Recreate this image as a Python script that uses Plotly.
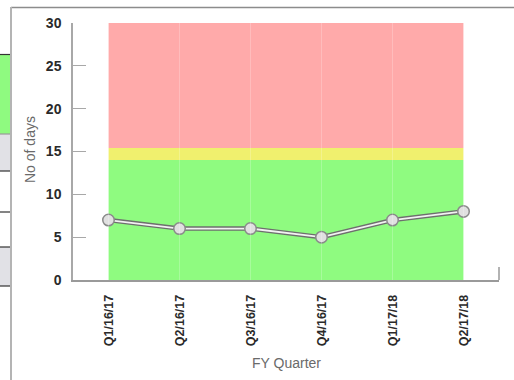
import plotly.graph_objects as go

# Quarterly turnaround (days) with RAG threshold bands
quarters = ["Q1/16/17", "Q2/16/17", "Q3/16/17", "Q4/16/17", "Q1/17/18", "Q2/17/18"]
days = [7, 6, 6, 5, 7, 8]

green_upper = [14] * len(quarters)
amber_upper = [15.4] * len(quarters)
red_upper = [30] * len(quarters)

W, H = 514, 380
L, R, T, B = 73, 15, 23, 100
PW, PH = W - L - R, H - T - B


def px_x(p):
    return (p - L) / PW


def px_y(q):
    return (H - B - q) / PH


fig = go.Figure()

# Threshold bands
fig.add_trace(go.Scatter(x=quarters, y=green_upper, mode="lines", line=dict(width=0),
                         fill="tozeroy", fillcolor="#8ffb80", hoverinfo="skip", showlegend=False))
fig.add_trace(go.Scatter(x=quarters, y=amber_upper, mode="lines", line=dict(width=0),
                         fill="tonexty", fillcolor="#f0f06e", hoverinfo="skip", showlegend=False))
fig.add_trace(go.Scatter(x=quarters, y=red_upper, mode="lines", line=dict(width=0),
                         fill="tonexty", fillcolor="#ffaaaa", hoverinfo="skip", showlegend=False))

# Double-stroked series line
fig.add_trace(go.Scatter(x=quarters, y=days, mode="lines", line=dict(color="#6e6e6e", width=4.5),
                         hoverinfo="skip", showlegend=False))
fig.add_trace(go.Scatter(x=quarters, y=days, mode="lines+markers",
                         line=dict(color="#f2f2f2", width=1.8),
                         marker=dict(size=11.5, color="#e0e0e0", line=dict(color="#8a8a8a", width=1.5)),
                         showlegend=False, name="No of days"))

shapes = []
# faint vertical grid at each quarter
for q in quarters:
    shapes.append(dict(type="line", xref="x", yref="y", x0=q, x1=q, y0=0, y1=30,
                       line=dict(color="rgba(255,255,255,0.22)", width=1), layer="above"))

# end tick on the right of the x axis
shapes.append(dict(type="line", xref="paper", yref="paper", x0=1, x1=1, y0=0, y1=px_y(267),
                   line=dict(color="#9a9a9a", width=1.5)))

# surrounding frame: top rule and left divider
shapes.append(dict(type="line", xref="paper", yref="paper", x0=px_x(11), x1=px_x(W), y0=px_y(7.5), y1=px_y(7.5),
                   line=dict(color="#8c8c8c", width=1.5)))
shapes.append(dict(type="line", xref="paper", yref="paper", x0=px_x(11), x1=px_x(11), y0=px_y(7), y1=px_y(H),
                   line=dict(color="#b4b4b4", width=2)))

# neighbouring table cells
cells = [(54, 134, "#8ffa80"), (134, 171, "#e1e1e6"), (171, 212, "#ffffff"),
         (212, 247, "#ffffff"), (247, 286, "#e1e1e6")]
for top, bot, col in cells:
    shapes.append(dict(type="rect", xref="paper", yref="paper", x0=px_x(-2), x1=px_x(10),
                       y0=px_y(bot), y1=px_y(top), fillcolor=col, line=dict(width=0)))
for yl, col in [(54.5, "#333333"), (134, "#9a9a9a"), (171, "#333333"), (212, "#333333"),
                (247, "#333333"), (286, "#333333")]:
    shapes.append(dict(type="line", xref="paper", yref="paper", x0=px_x(-2), x1=px_x(10),
                       y0=px_y(yl), y1=px_y(yl), line=dict(color=col, width=1.2)))

annotations = [
    dict(text="No of days", xref="paper", yref="paper", x=px_x(30), y=px_y(150), showarrow=False,
         xanchor="center", yanchor="middle", textangle=-90,
         font=dict(family="Liberation Sans, Arial", size=14, color="#6a6a6a")),
    dict(text="FY Quarter", xref="paper", yref="paper", x=px_x(286), y=px_y(363), showarrow=False,
         xanchor="center", yanchor="middle",
         font=dict(family="Liberation Sans, Arial", size=14, color="#6a6a6a")),
]

fig.update_layout(
    width=W, height=H,
    margin=dict(l=L, r=R, t=T, b=B),
    paper_bgcolor="white", plot_bgcolor="white",
    shapes=shapes, annotations=annotations,
    font=dict(family="Liberation Sans, Arial"),
    xaxis=dict(
        type="category", range=[-0.5, 5.5], showgrid=False, zeroline=False,
        showline=True, linecolor="#9a9a9a", linewidth=1.5, ticks="",
        ticklabelstandoff=8,
        tickangle=-90, tickfont=dict(family="Liberation Sans, Arial", size=12.5, color="#2a2a2a", weight="bold"),
    ),
    yaxis=dict(
        range=[0, 30], dtick=5, showgrid=False, zeroline=False,
        showline=True, linecolor="#a8a8a8", linewidth=1.5,
        ticks="inside", ticklen=13, tickcolor="#a8a8a8", tickwidth=1.2,
        ticklabelstandoff=7,
        tickfont=dict(family="Liberation Sans, Arial", size=14, color="#2a2a2a", weight="bold"),
    ),
)

fig.write_html("out.html")
